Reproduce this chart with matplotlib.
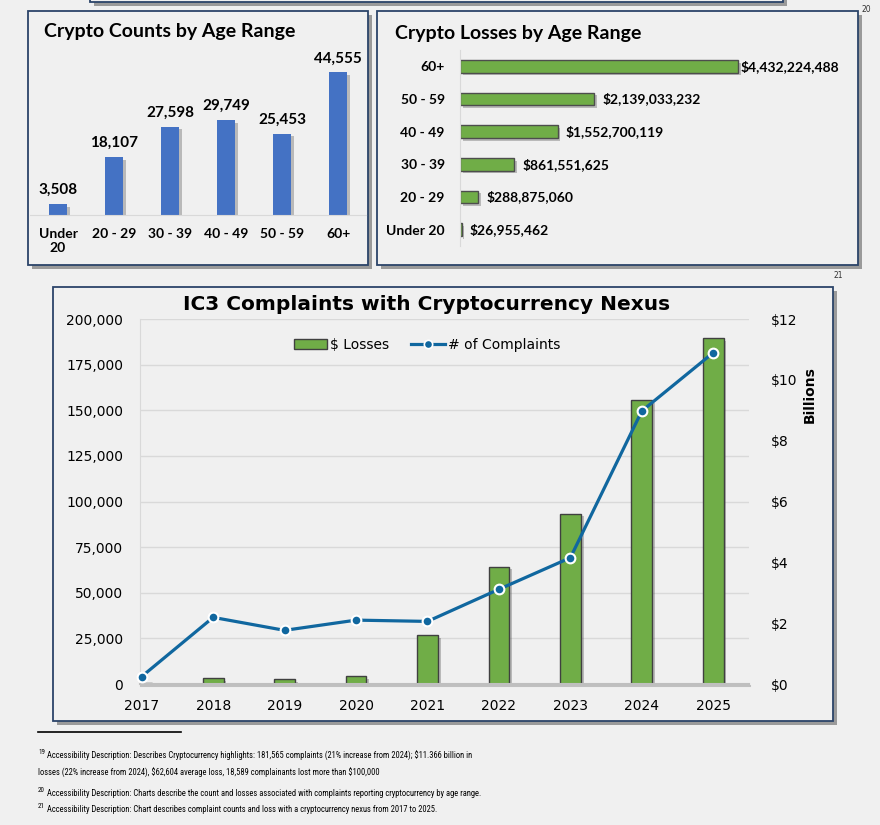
import matplotlib.pyplot as plt
import matplotlib.patheffects as pe
from matplotlib import font_manager
from matplotlib.patches import Rectangle, Patch
from matplotlib.lines import Line2D
from matplotlib.ticker import FuncFormatter

plt.rcParams['text.parse_math'] = False

# data
count_labels = ['Under\n20', '20 - 29', '30 - 39', '40 - 49', '50 - 59', '60+']
age_counts = [3508, 18107, 27598, 29749, 25453, 44555]

loss_labels = ['Under 20', '20 - 29', '30 - 39', '40 - 49', '50 - 59', '60+']
age_losses = [26955462, 288875060, 861551625, 1552700119, 2139033232, 4432224488]

years = ['2017', '2018', '2019', '2020', '2021', '2022', '2023', '2024', '2025']
losses_bn = [0.03, 0.19, 0.16, 0.25, 1.6, 3.86, 5.6, 9.33, 11.37]
complaints = [4100, 36500, 29400, 35000, 34300, 51900, 69200, 149600, 181565]

W, H = 880, 825
BG = '#f0f0f0'
NAVY = '#2b4469'
GREEN = '#70ad47'
BLUE = '#4472c4'
LINE = '#10679f'
TOPFONT = ['Lato', 'DejaVu Sans']

installed = {f.name for f in font_manager.fontManager.ttflist}
narrow = [n for n in ['Liberation Sans Narrow', 'Roboto Condensed', 'Roboto'] if n in installed]
NOTEFONT = narrow[:1] + ['DejaVu Sans']

shadow = [pe.SimplePatchShadow(offset=(2, -2), shadow_rgbFace='#555555', alpha=0.35), pe.Normal()]


def box(x0, y0, x1, y1):
    return [x0 / W, 1 - y1 / H, (x1 - x0) / W, (y1 - y0) / H]


def fx(x):
    return x / W


def fy(y):
    return 1 - y / H


def panel(fig, x0, y0, x1, y1):
    r = Rectangle((x0 / W, 1 - y1 / H), (x1 - x0) / W, (y1 - y0) / H,
                  transform=fig.transFigure, facecolor=BG, edgecolor=NAVY, lw=1.3, zorder=-5,
                  path_effects=[pe.SimplePatchShadow(offset=(3, -3), shadow_rgbFace='#333333', alpha=0.45),
                                pe.Normal()])
    fig.patches.append(r)


fig = plt.figure(figsize=(8.8, 8.25), dpi=100, facecolor=BG)

panel(fig, 90, -20, 783, 2)
panel(fig, 28, 11, 368, 265)
panel(fig, 377, 11, 858, 265)
panel(fig, 53, 287, 833, 721)

fig.text(fx(866), fy(9), '20', fontsize=5.5, color='#333333', ha='center', va='center')
fig.text(fx(838), fy(276), '21', fontsize=5.5, color='#333333', ha='center', va='center')

# counts by age
ax1 = fig.add_axes(box(30, 55, 366, 215))
ax1.patch.set_alpha(0)
xs = list(range(len(age_counts)))
ax1.bar(xs, age_counts, width=0.32, color=BLUE, path_effects=shadow)
for x, v in zip(xs, age_counts):
    ax1.annotate(f'{v:,}', (x, v), xytext=(0, 5), textcoords='offset points',
                 ha='center', va='bottom', fontsize=11, fontweight='bold',
                 family=TOPFONT, annotation_clip=False)
ax1.set_xlim(-0.5, 5.5)
ax1.set_ylim(0, 50000)
ax1.set_xticks(xs)
ax1.set_xticklabels(count_labels, fontsize=10, fontweight='bold', family=TOPFONT)
ax1.tick_params(axis='x', length=0, pad=9)
ax1.set_yticks([])
for s in ['top', 'left', 'right']:
    ax1.spines[s].set_visible(False)
ax1.spines['bottom'].set_color('#d9d9d9')
fig.text(fx(44), fy(32), 'Crypto Counts by Age Range', fontsize=14, fontweight='bold',
         family=TOPFONT, va='center')

# losses by age
ax2 = fig.add_axes(box(460, 50, 845, 246))
ax2.patch.set_alpha(0)
ax2.barh(xs, age_losses, height=0.39, color=GREEN, edgecolor='#4d4d4d', lw=1,
         path_effects=shadow)
for y, v in zip(xs, age_losses):
    ax2.annotate(f'${v:,}', (v, y), xytext=(6 if v < 4e9 else 1.5, 0), textcoords='offset points',
                 ha='left', va='center', fontsize=10, fontweight='bold',
                 family=TOPFONT, annotation_clip=False)
ax2.set_ylim(-0.5, 5.5)
ax2.set_xlim(0, 6.13e9)
ax2.set_yticks(xs)
ax2.set_yticklabels(loss_labels, fontsize=10, fontweight='bold', family=TOPFONT)
ax2.tick_params(axis='y', length=0, pad=11)
ax2.set_xticks([])
for s in ['top', 'bottom', 'right']:
    ax2.spines[s].set_visible(False)
ax2.spines['left'].set_color('#d9d9d9')
fig.text(fx(395), fy(33), 'Crypto Losses by Age Range', fontsize=14, fontweight='bold',
         family=TOPFONT, va='center')

# main chart: bars on the base axes, line on the twin
axb = fig.add_axes(box(140, 319, 749, 684))
axb.patch.set_alpha(0)
axl = axb.twinx()

pos = list(range(len(years)))
for g in [i * 1.5 for i in range(1, 9)]:
    axb.axhline(g, color='#d9d9d9', lw=1, zorder=0)
axb.bar(pos, losses_bn, width=0.29, color=GREEN, edgecolor='#404040', lw=1,
        path_effects=shadow, zorder=2)
axb.set_ylim(0, 12)
axb.set_xlim(-0.024, 8.5)
axb.yaxis.tick_right()
axb.set_yticks(range(0, 13, 2))
axb.yaxis.set_major_formatter(FuncFormatter(lambda v, p: f'${v:.0f}'))
axb.tick_params(axis='y', length=0, pad=16, labelsize=10)
axb.set_xticks(pos)
axb.set_xticklabels(years, fontsize=10)
axb.tick_params(axis='x', length=0, pad=11)
for s in ['top', 'right']:
    axb.spines[s].set_visible(False)
axb.spines['left'].set_color('#d9d9d9')
axb.spines['bottom'].set_color('#bfbfbf')
axb.spines['bottom'].set_linewidth(1.5)
axb.spines['bottom'].set_path_effects([pe.SimpleLineShadow(offset=(1, -1.5), alpha=0.2), pe.Normal()])

axl.plot(pos, complaints, color=LINE, lw=2.3, marker='o', markersize=7,
         markerfacecolor=LINE, markeredgecolor='white', markeredgewidth=1.5,
         clip_on=False, zorder=3)
axl.set_ylim(0, 200000)
axl.yaxis.tick_left()
axl.set_yticks(range(0, 200001, 25000))
axl.yaxis.set_major_formatter(FuncFormatter(lambda v, p: f'{v:,.0f}'))
axl.tick_params(axis='y', length=0, pad=12, labelsize=10)
for s in ['top', 'right', 'left', 'bottom']:
    axl.spines[s].set_visible(False)

fig.text(fx(810), fy(395), 'Billions', rotation=90, fontsize=10, fontweight='bold',
         ha='center', va='center')
fig.text(fx(427), fy(305), 'IC3 Complaints with Cryptocurrency Nexus', fontsize=14.5,
         fontweight='bold', ha='center', va='center')

handles = [Patch(facecolor=GREEN, edgecolor='#404040', lw=1),
           Line2D([], [], color=LINE, lw=2.3, marker='o', markersize=6,
                  markerfacecolor=LINE, markeredgecolor='white', markeredgewidth=1.2)]
fig.legend(handles, ['$ Losses', '# of Complaints'], loc='center', bbox_to_anchor=(fx(427), fy(345)),
           ncol=2, frameon=False, fontsize=10, handlelength=2.4, handletextpad=0.2,
           columnspacing=1.6)

# footnotes
fig.add_artist(Line2D([fx(38), fx(181)], [fy(732), fy(732)], color='black', lw=1.2))
notes = [
    ('19', 'Accessibility Description: Describes Cryptocurrency highlights: 181,565 complaints (21% increase from 2024); $11.366 billion in', 756),
    ('', 'losses (22% increase from 2024), $62,604 average loss, 18,589 complainants lost more than $100,000', 773),
    ('20', 'Accessibility Description: Charts describe the count and losses associated with complaints reporting cryptocurrency by age range.', 793),
    ('21', 'Accessibility Description: Chart describes complaint counts and loss with a cryptocurrency nexus from 2017 to 2025.', 810),
]
note_texts = []
for sup, txt, y in notes:
    if sup:
        fig.text(fx(38), fy(y - 3), sup, fontsize=5, family=NOTEFONT, va='center')
    note_texts.append(fig.text(fx(47) if sup else fx(38), fy(y), txt, fontsize=7,
                               family=NOTEFONT, va='center'))

# fit the footnote size so the longest line spans the same width as the page text
renderer = fig.canvas.get_renderer()
width = note_texts[2].get_window_extent(renderer).width
size = 7 * 442 / width
for t in note_texts:
    t.set_fontsize(size)

fig.savefig('out.png', dpi=100, facecolor=BG)
